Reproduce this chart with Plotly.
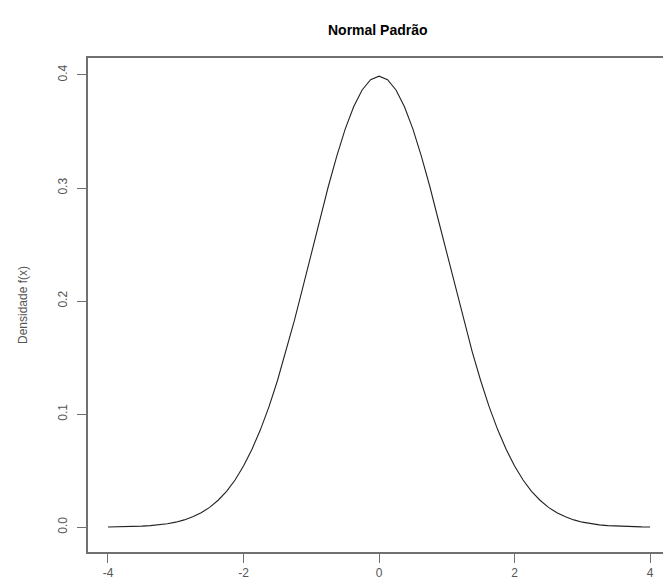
import plotly.graph_objects as go

# Standard normal density, sampled every 0.125 on [-4, 4]
x_vals = [-4.0, -3.875, -3.75, -3.625, -3.5, -3.375, -3.25, -3.125, -3.0, -2.875,
          -2.75, -2.625, -2.5, -2.375, -2.25, -2.125, -2.0, -1.875, -1.75, -1.625,
          -1.5, -1.375, -1.25, -1.125, -1.0, -0.875, -0.75, -0.625, -0.5, -0.375,
          -0.25, -0.125, 0.0, 0.125, 0.25, 0.375, 0.5, 0.625, 0.75, 0.875, 1.0,
          1.125, 1.25, 1.375, 1.5, 1.625, 1.75, 1.875, 2.0, 2.125, 2.25, 2.375,
          2.5, 2.625, 2.75, 2.875, 3.0, 3.125, 3.25, 3.375, 3.5, 3.625, 3.75,
          3.875, 4.0]
density = [0.0001, 0.0002, 0.0004, 0.0006, 0.0009, 0.0013, 0.0020, 0.0030, 0.0044,
           0.0064, 0.0091, 0.0127, 0.0175, 0.0238, 0.0317, 0.0417, 0.0540, 0.0689,
           0.0863, 0.1064, 0.1295, 0.1551, 0.1826, 0.2120, 0.2420, 0.2717, 0.3011,
           0.3280, 0.3521, 0.3719, 0.3867, 0.3958, 0.3989, 0.3958, 0.3867, 0.3719,
           0.3521, 0.3280, 0.3011, 0.2717, 0.2420, 0.2120, 0.1826, 0.1551, 0.1295,
           0.1064, 0.0863, 0.0689, 0.0540, 0.0417, 0.0317, 0.0238, 0.0175, 0.0127,
           0.0091, 0.0064, 0.0044, 0.0030, 0.0020, 0.0013, 0.0009, 0.0006, 0.0004,
           0.0002, 0.0001]

x_ticks = [-4, -2, 0, 2, 4]
x_tick_text = ["-4", "-2", "0", "2", "4"]
y_ticks = [0.0, 0.1, 0.2, 0.3, 0.4]
y_tick_text = ["0.0", "0.1", "0.2", "0.3", "0.4"]

fig = go.Figure()
fig.add_trace(go.Scatter(
    x=x_vals, y=density, mode="lines",
    line=dict(color="#222222", width=1.1),
    hoverinfo="skip", showlegend=False,
))

font_family = "Liberation Sans, Arial, sans-serif"
axis_color = "#707070"

fig.update_layout(
    width=663, height=580,
    margin=dict(l=88, r=0, t=58, b=25),
    paper_bgcolor="white", plot_bgcolor="white",
    title=dict(text="<b>Normal Padrão</b>", x=0.504, xref="paper", xanchor="center",
               y=0.948, yref="container", yanchor="middle",
               font=dict(family=font_family, size=14, color="#000000")),
    font=dict(family=font_family, size=12, color="#555555"),
    xaxis=dict(range=[-4.295, 4.19], tickvals=x_ticks, ticktext=x_tick_text,
               ticks="outside", ticklen=9,
               tickcolor=axis_color, showline=True, linecolor=axis_color, linewidth=1.5,
               mirror=True, showgrid=False, zeroline=False,
               tickfont=dict(size=12, color="#555555")),
    yaxis=dict(range=[-0.022, 0.415], tickvals=y_ticks, ticktext=y_tick_text,
               ticks="outside", ticklen=9, tickcolor=axis_color, tickangle=-90,
               ticklabelstandoff=5,
               showline=True, linecolor=axis_color, linewidth=1.5, mirror=False,
               showgrid=False, zeroline=False,
               tickfont=dict(size=12, color="#555555"),
               title=dict(text="Densidade f(x)", standoff=26,
                          font=dict(size=12, color="#555555"))),
)

fig.write_html("out.html")
